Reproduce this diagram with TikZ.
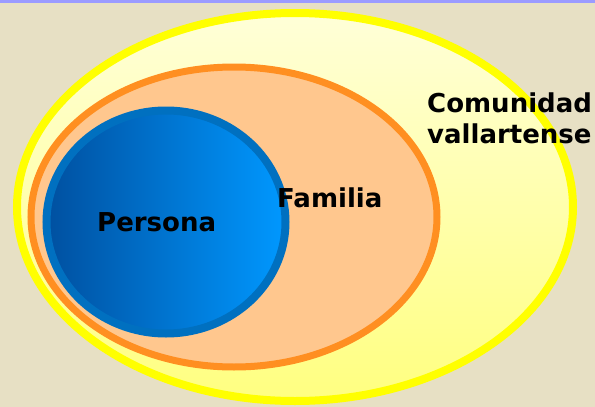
\documentclass[tikz,border=0pt]{standalone}
\usepackage{fontspec}
\setmainfont{DejaVu Sans}
\usetikzlibrary{shapes.geometric}
\definecolor{papel}{RGB}{231,224,196}
\definecolor{franja}{RGB}{155,155,255}
\definecolor{amarillo}{RGB}{255,255,0}
\definecolor{amarilloA}{RGB}{255,255,216}
\definecolor{amarilloB}{RGB}{255,255,128}
\definecolor{naranja}{RGB}{255,143,33}
\definecolor{durazno}{RGB}{255,199,142}
\definecolor{azulborde}{RGB}{0,112,192}
\definecolor{azulA}{RGB}{0,80,160}
\definecolor{azulB}{RGB}{0,152,255}
\tikzset{
  circulo/.style={ellipse, inner sep=0pt, outer sep=0pt},
  rotulo/.style={font=\bfseries\fontsize{26}{31}\selectfont, inner sep=0pt, align=left}
}
\begin{document}
\begin{tikzpicture}[x=1pt, y=-1pt]
    \useasboundingbox (0,0) rectangle (595,407);
    \fill[papel] (0,0) rectangle (595,407);
    \fill[franja] (0,0) rectangle (595,3);
    \node[circulo, draw=amarillo, line width=8pt, top color=amarilloA, bottom color=amarilloB,
      minimum width=556pt, minimum height=388pt] (comunidad) at (295, 207) {};
    \node[circulo, draw=naranja, line width=7pt, fill=durazno,
      minimum width=406pt, minimum height=300pt] (familia) at (234, 217) {};
    \node[circulo, draw=azulborde, line width=8pt, left color=azulA, right color=azulB,
      minimum width=239pt, minimum height=223pt] (persona) at (166, 222) {};
    % la ancla base queda en la ultima linea
    \node[rotulo, anchor=base west] (t_comunidad) at (427, 143) {Comunidad\\vallartense};
    \node[rotulo, anchor=base west] (t_familia) at (277, 207) {Familia};
    \node[rotulo, anchor=base west] (t_persona) at (97, 231) {Persona};
  \end{tikzpicture}
\end{document}
